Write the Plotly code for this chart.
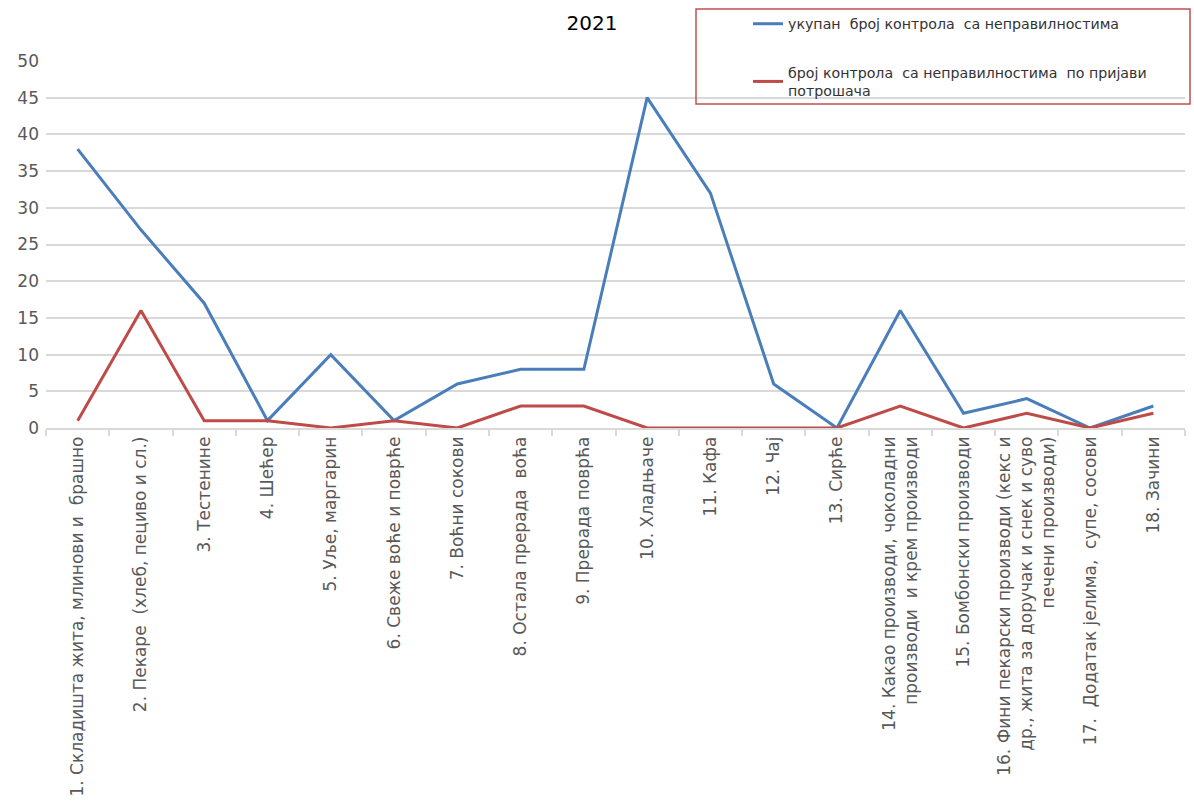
import plotly.graph_objects as go

categories = [
    "1. Складишта жита, млинови и  брашно",
    "2. Пекаре  (хлеб, пециво и сл.)",
    "3. Тестенине",
    "4. Шећер",
    "5. Уље, маргарин",
    "6. Свеже воће и поврће",
    "7. Воћни сокови",
    "8. Остала прерада  воћа",
    "9. Прерада поврћа",
    "10. Хладњаче",
    "11. Кафа",
    "12. Чај",
    "13. Сирће",
    "14. Какао производи, чоколадни<br>производи  и крем производи",
    "15. Бомбонски производи",
    "16. Фини пекарски производи (кекс и<br>др., жита за доручак и снек и суво<br>печени производи)",
    "17.  Додатак јелима,  супе, сосови",
    "18. Зачини",
]
total_irregular = [38, 27, 17, 1, 10, 1, 6, 8, 8, 45, 32, 6, 0, 16, 2, 4, 0, 3]
consumer_reported = [1, 16, 1, 1, 0, 1, 0, 3, 3, 0, 0, 0, 0, 3, 0, 2, 0, 2]
series_names = [
    "укупан  број контрола  са неправилностима",
    "број контрола  са неправилностима  по пријави<br>потрошача",
]
title_text = "2021"
y_ticks = [0, 5, 10, 15, 20, 25, 30, 35, 40, 45, 50]

FONT = "DejaVu Sans, Liberation Sans, Arial, sans-serif"

fig = go.Figure()
fig.add_trace(go.Scatter(
    x=categories, y=total_irregular, mode="lines", name=series_names[0],
    line=dict(color="#4a7ebb", width=3), legendgroup="a",
))
fig.add_trace(go.Scatter(
    x=categories, y=consumer_reported, mode="lines", name=series_names[1],
    line=dict(color="#be4b48", width=3), legendgroup="b",
))

W, H = 1194, 803
L, R, T, B = 46, 9, 61, 375
pw = W - L - R
ph = H - T - B

def px_x(p):
    return (p - L) / pw

def px_y(p):
    return (H - B - p) / ph

fig.update_layout(
    width=W, height=H,
    margin=dict(l=L, r=R, t=T, b=B, autoexpand=False),
    paper_bgcolor="white", plot_bgcolor="white",
    font=dict(family=FONT, color="#595959"),
    title=dict(text=title_text, x=592 / W, xref="container", xanchor="center", y=1 - 23 / H, yanchor="middle",
               font=dict(size=20, color="#000000", family=FONT)),
    showlegend=True,
    legend=dict(
        x=px_x(748), xanchor="left", y=px_y(8), yanchor="top",
        bgcolor="rgba(0,0,0,0)", borderwidth=0,
        font=dict(size=14.2, color="#333333", family=FONT),
        traceorder="grouped", tracegroupgap=27,
    ),
    shapes=[dict(
        type="rect", xref="paper", yref="paper",
        x0=px_x(696), x1=px_x(1190), y0=px_y(104), y1=px_y(9),
        line=dict(color="#c0504d", width=1.5), fillcolor="rgba(0,0,0,0)", layer="above",
    )],
    xaxis=dict(
        type="category", tickangle=-90, automargin=False,
        tickfont=dict(size=17, color="#595959", family=FONT),
        showgrid=False, showline=True, linecolor="#d9d9d9", linewidth=1.5,
        ticks="outside", ticklen=6, tickcolor="#d9d9d9", tickwidth=1.5,
        tickson="boundaries", range=[-0.5, len(categories) - 0.5],
    ),
    yaxis=dict(
        range=[0, 50], tickvals=y_ticks, automargin=False,
        tickfont=dict(size=17, color="#595959", family=FONT),
        showgrid=True, gridcolor="#d9d9d9", gridwidth=1.5,
        zeroline=False, showline=False, ticks="", ticklabelstandoff=6,
    ),
)

fig.write_html(
    "out.html",
    config={"displayModeBar": False},
    post_script="document.body.style.margin='0';document.body.style.padding='0';",
)
